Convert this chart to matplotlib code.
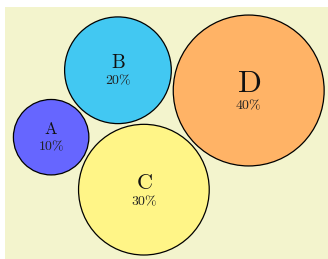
import numpy as np
import matplotlib
matplotlib.use("Agg")
import matplotlib.pyplot as plt
from matplotlib.patches import Circle

plt.rcParams['mathtext.fontset'] = 'cm'

# data
labels = ['A', 'B', 'C', 'D']
values = [10, 20, 30, 40]

# styles
colors = {'A': '#6666ff', 'B': '#42c8f2', 'C': '#fff587', 'D': '#ffb366'}
label_size = {'A': 12, 'B': 14, 'C': 16, 'D': 22.5}
bg = '#f3f4cd'

# circle area proportional to value (pixel units)
k = 11.93
pad = 3.5
r = {lab: k * np.sqrt(v) for lab, v in zip(labels, values)}


def tangent(p1, r1, p2, r2, rad, side=1):
    # centre of a circle touching two others (with padding)
    p1 = np.array(p1, float)
    p2 = np.array(p2, float)
    d1 = r1 + rad + pad
    d2 = r2 + rad + pad
    v = p2 - p1
    d = np.hypot(*v)
    a = (d1**2 - d2**2 + d**2) / (2 * d)
    h = np.sqrt(d1**2 - a**2)
    u = v / d
    perp = np.array([-u[1], u[0]])
    return p1 + a * u + side * h * perp


# packing: start from the biggest one, chain the rest around it
pos = {}
pos['D'] = np.array([248.7, 90.5])
ang = np.deg2rad(188.8)
pos['B'] = pos['D'] + (r['D'] + r['B'] + pad) * np.array([np.cos(ang), np.sin(ang)])
pos['C'] = tangent(pos['B'], r['B'], pos['D'], r['D'], r['C'])
pos['A'] = tangent(pos['B'], r['B'], pos['C'], r['C'], r['A'])

fig = plt.figure(figsize=(3.28, 2.59), dpi=100)
fig.patch.set_facecolor('white')
ax = fig.add_axes([5 / 328, 0, 323 / 328, 252 / 259])
ax.set_facecolor(bg)
ax.set_xlim(5, 328)
ax.set_ylim(259, 7)
ax.set_xticks([])
ax.set_yticks([])
for s in ax.spines.values():
    s.set_visible(False)

total = sum(values)
for lab, v in zip(labels, values):
    cx, cy = pos[lab]
    ax.add_patch(Circle((cx, cy), r[lab], facecolor=colors[lab],
                        edgecolor='black', linewidth=0.9))
    em = label_size[lab] * 100 / 72
    cap = 0.68 * em
    gap = 6
    pct_h = 11.3
    top = cy - (cap + gap + pct_h) / 2
    base = top + cap
    ax.text(cx, base, r'$\mathrm{%s}$' % lab, fontsize=label_size[lab],
            ha='center', va='baseline', color='#111111')
    ax.text(cx, base + gap + 10.4, r'$%d\%%$' % round(v / total * 100), fontsize=10,
            ha='center', va='baseline', color='#222222')

fig.savefig('out.png', dpi=100)
